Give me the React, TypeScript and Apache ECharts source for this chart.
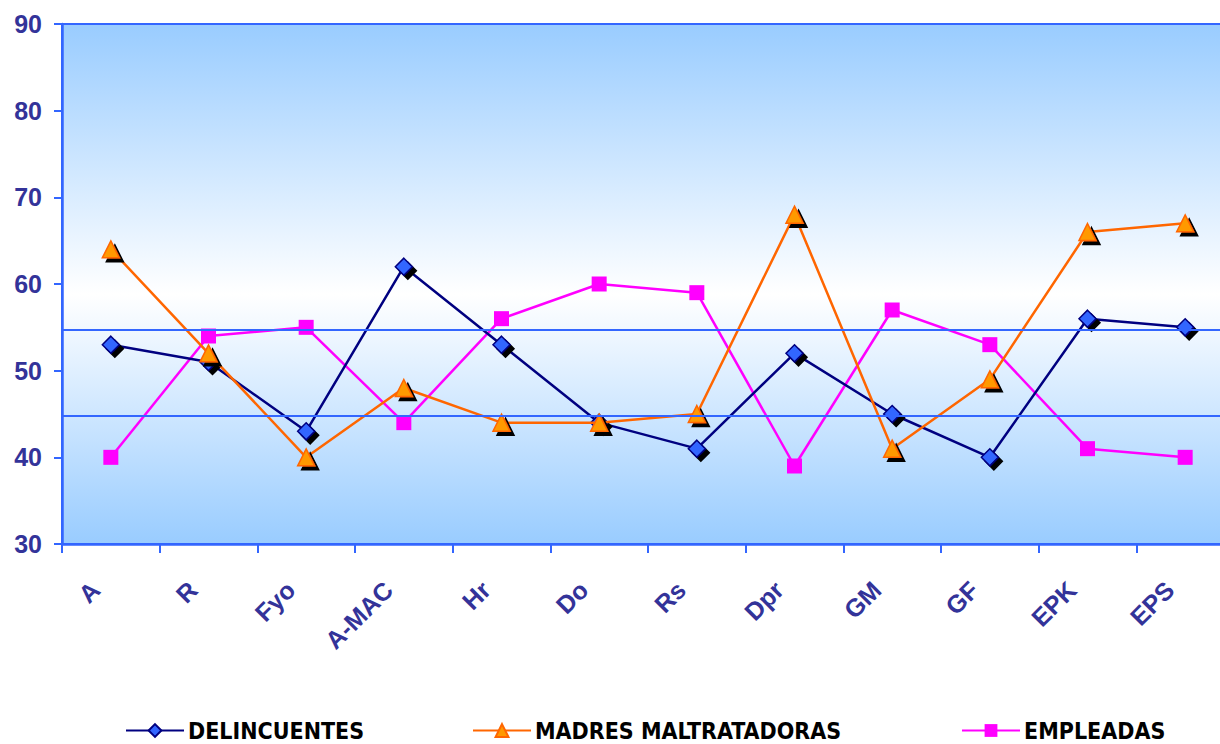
import React, { useEffect, useRef } from "react";
import * as echarts from "echarts";

// Scale abbreviations along the horizontal axis
const categories = ["A", "R", "Fyo", "A-MAC", "Hr", "Do", "Rs", "Dpr", "GM", "GF", "EPK", "EPS"];

// Scores per group
const delincuentes = [53, 51, 43, 62, 53, 44, 41, 52, 45, 40, 56, 55];
const madresMaltratadoras = [64, 52, 40, 48, 44, 44, 45, 68, 41, 49, 66, 67];
const empleadas = [40, 54, 55, 44, 56, 60, 59, 39, 57, 53, 41, 40];

// Reference band limits drawn as horizontal lines
const bandLimits = [54.7, 44.8];

const AXIS_BLUE = "#3366ff";
const LABEL_BLUE = "#333399";

// The plot area runs past the visible right edge, so the chart canvas is
// wider than the clipping frame around it.
const FRAME_W = 1220;
const FRAME_H = 744;
const CANVAS_W = 1240;

export default function App() {
  const ref = useRef<HTMLDivElement>(null);

  useEffect(() => {
    if (!ref.current) return;
    const chart = echarts.init(ref.current, null, { renderer: "svg" });

    const shadow = { shadowColor: "#000", shadowBlur: 0, shadowOffsetX: 4, shadowOffsetY: 4 };

    chart.setOption({
      animation: false,
      grid: {
        left: 62,
        top: 24,
        right: 6,
        bottom: 200,
        show: true,
        borderColor: AXIS_BLUE,
        borderWidth: 2,
        backgroundColor: new echarts.graphic.LinearGradient(0, 0, 0, 1, [
          { offset: 0, color: "#99ccff" },
          { offset: 0.52, color: "#ffffff" },
          { offset: 1, color: "#99ccff" },
        ]),
      },
      legend: [
        { name: "DELINCUENTES", left: 125, w: 58 },
        { name: "MADRES MALTRATADORAS", left: 472, w: 58 },
        { name: "EMPLEADAS", left: 961, w: 58 },
      ].map((l) => ({
        data: [l.name],
        left: l.left,
        top: 719,
        padding: 0,
        itemWidth: l.w,
        itemHeight: 16,
        itemGap: 8,
        textStyle: {
          color: "#000",
          fontWeight: "bold",
          fontSize: 23,
          lineHeight: 20,
          padding: [0, 0, 0, -1],
          fontFamily: "DejaVu Sans Condensed, DejaVu Sans, sans-serif",
        },
      })),
      xAxis: {
        type: "category",
        data: categories,
        boundaryGap: true,
        axisLine: { lineStyle: { color: AXIS_BLUE, width: 2.5 } },
        axisTick: { show: true, length: 9, lineStyle: { color: AXIS_BLUE, width: 2 } },
        axisLabel: {
          rotate: 45,
          margin: 26,
          padding: [0, 22, 0, 0],
          color: LABEL_BLUE,
          fontWeight: "bold",
          fontSize: 25,
          fontFamily: "Liberation Sans, Arial, sans-serif",
        },
        splitLine: { show: false },
      },
      yAxis: {
        type: "value",
        min: 30,
        max: 90,
        interval: 10,
        axisLine: { show: true, lineStyle: { color: AXIS_BLUE, width: 2.5 } },
        axisTick: { show: true, length: 8, lineStyle: { color: AXIS_BLUE, width: 2 } },
        axisLabel: {
          margin: 20,
          color: LABEL_BLUE,
          fontWeight: "bold",
          fontSize: 25,
          fontFamily: "Liberation Sans, Arial, sans-serif",
        },
        splitLine: { show: false },
      },
      series: [
        {
          name: "DELINCUENTES",
          type: "line",
          data: delincuentes,
          symbol: "diamond",
          symbolSize: 17,
          lineStyle: { color: "#000080", width: 2.5 },
          itemStyle: { color: "#3366ff", borderColor: "#000080", borderWidth: 1.5, ...shadow },
          markLine: {
            silent: true,
            symbol: "none",
            label: { show: false },
            lineStyle: { color: AXIS_BLUE, width: 2, type: "solid" },
            data: bandLimits.map((v) => ({ yAxis: v })),
          },
          z: 3,
        },
        {
          name: "MADRES MALTRATADORAS",
          type: "line",
          data: madresMaltratadoras,
          symbol: "triangle",
          symbolSize: 17,
          lineStyle: { color: "#ff6600", width: 2.5 },
          itemStyle: { color: "#ff9900", borderColor: "#ff6600", borderWidth: 1.5, ...shadow },
          z: 4,
        },
        {
          name: "EMPLEADAS",
          type: "line",
          data: empleadas,
          symbol: "rect",
          symbolSize: 15,
          lineStyle: { color: "#ff00ff", width: 2.5 },
          itemStyle: { color: "#ff00ff" },
          z: 2,
        },
      ],
    });

    return () => chart.dispose();
  }, []);

  return (
    <div
      style={{
        position: "absolute",
        left: 0,
        top: 0,
        width: FRAME_W,
        height: FRAME_H,
        overflow: "hidden",
      }}
    >
      <div ref={ref} style={{ width: CANVAS_W, height: FRAME_H }} />
    </div>
  );
}
